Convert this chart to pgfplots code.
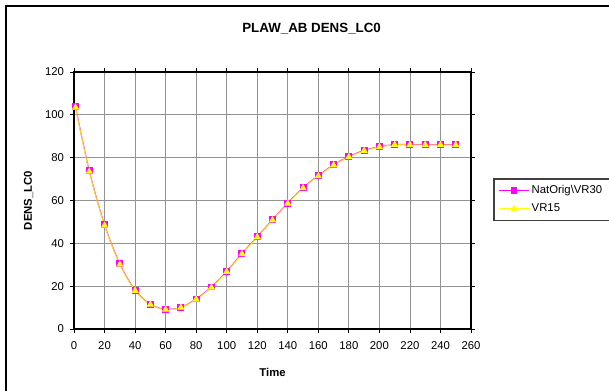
\documentclass[border=0pt]{standalone}
\usepackage{fontspec}
\setmainfont{Liberation Sans}
\usepackage{pgfplots}
\pgfplotsset{compat=1.18}
\definecolor{mag}{RGB}{255,0,255}
\definecolor{yel}{RGB}{255,255,0}
\begin{document}
\begin{tikzpicture}
\useasboundingbox (0,0) rectangle (456.75pt,293.25pt);
\draw[black, line width=0.9pt] (4.5pt,-10pt) rectangle (490pt,288.75pt);
\node[font=\bfseries\fontsize{10}{12}\selectfont] at (233.7pt,271.5pt) {PLAW\_AB DENS\_LC0};
\begin{axis}[
  at={(55.5pt,46.5pt)}, anchor=south west,
  scale only axis, width=297.75pt, height=192.75pt,
  xmin=0, xmax=260, ymin=0, ymax=120,
  xtick={0,20,...,260}, ytick={0,20,...,120},
  grid=major,
  major grid style={draw=gray!85, line width=0.6pt},
  axis line style={black, line width=0.9pt},
  tick align=outside, major tick length=3pt,
  tick style={black, line width=0.6pt},
  /pgf/number format/assume math mode=true,
  ticklabel style={font=\fontsize{8.5}{10}\selectfont},
  xticklabel style={yshift=-3pt},
  yticklabel style={xshift=-1pt},
  xlabel={\bfseries Time}, ylabel={\bfseries DENS\_LC0},
  label style={font=\fontsize{8.5}{10}\selectfont},
  xlabel style={yshift=-7pt},
  ylabel style={yshift=2pt},
  legend style={at={(1.058,0.584)}, anchor=north west, draw=none, name=leg,
    font=\fontsize{8.5}{10}\selectfont, inner sep=3pt, row sep=3.5pt,
    nodes={inner sep=1.5pt, text width=62pt, align=left}},
  legend cell align=left,
  legend image code/.code={
    \draw[mark repeat=2,mark phase=2,#1] plot coordinates {(0cm,0cm)(0.4cm,0cm)(0.8cm,0cm)};},
  clip=false,
]
\addplot[mag, line width=0.8pt, smooth, mark=square*, mark size=2.2pt, mark options={fill=mag, draw=mag}]
coordinates {(1,103.7)(10,73.8)(20,48.6)(30,30.4)(40,18.1)(50,11.5)(60,9.2)(70,10.1)(80,14)(90,19.6)(100,26.9)(110,35.2)(120,43.1)(130,51)(140,58.8)(150,66)(160,71.6)(170,76.7)(180,80.5)(190,83.4)(200,85.1)(210,86.1)(220,86.1)(230,86.1)(240,86.1)(250,86.1)};
\addlegendentry{NatOrig\textbackslash VR30}
\addplot[yel, draw opacity=0.8, line width=0.8pt, smooth, mark=triangle*, mark size=2.4pt, mark options={fill=yel, draw=yel, opacity=1},
  legend image post style={draw opacity=1}]
coordinates {(1,103.4)(10,73.5)(20,48.3)(30,30.1)(40,17.9)(50,11.4)(60,9.1)(70,10)(80,13.8)(90,19.4)(100,26.7)(110,35)(120,42.9)(130,50.8)(140,58.6)(150,65.8)(160,71.4)(170,76.5)(180,80.3)(190,83.2)(200,85)(210,86)(220,86)(230,86)(240,86)(250,86)};
\addlegendentry{VR15}
\end{axis}
\draw[black!75, line width=0.9pt] (leg.south west) rectangle (leg.north east);
\end{tikzpicture}
\end{document}
